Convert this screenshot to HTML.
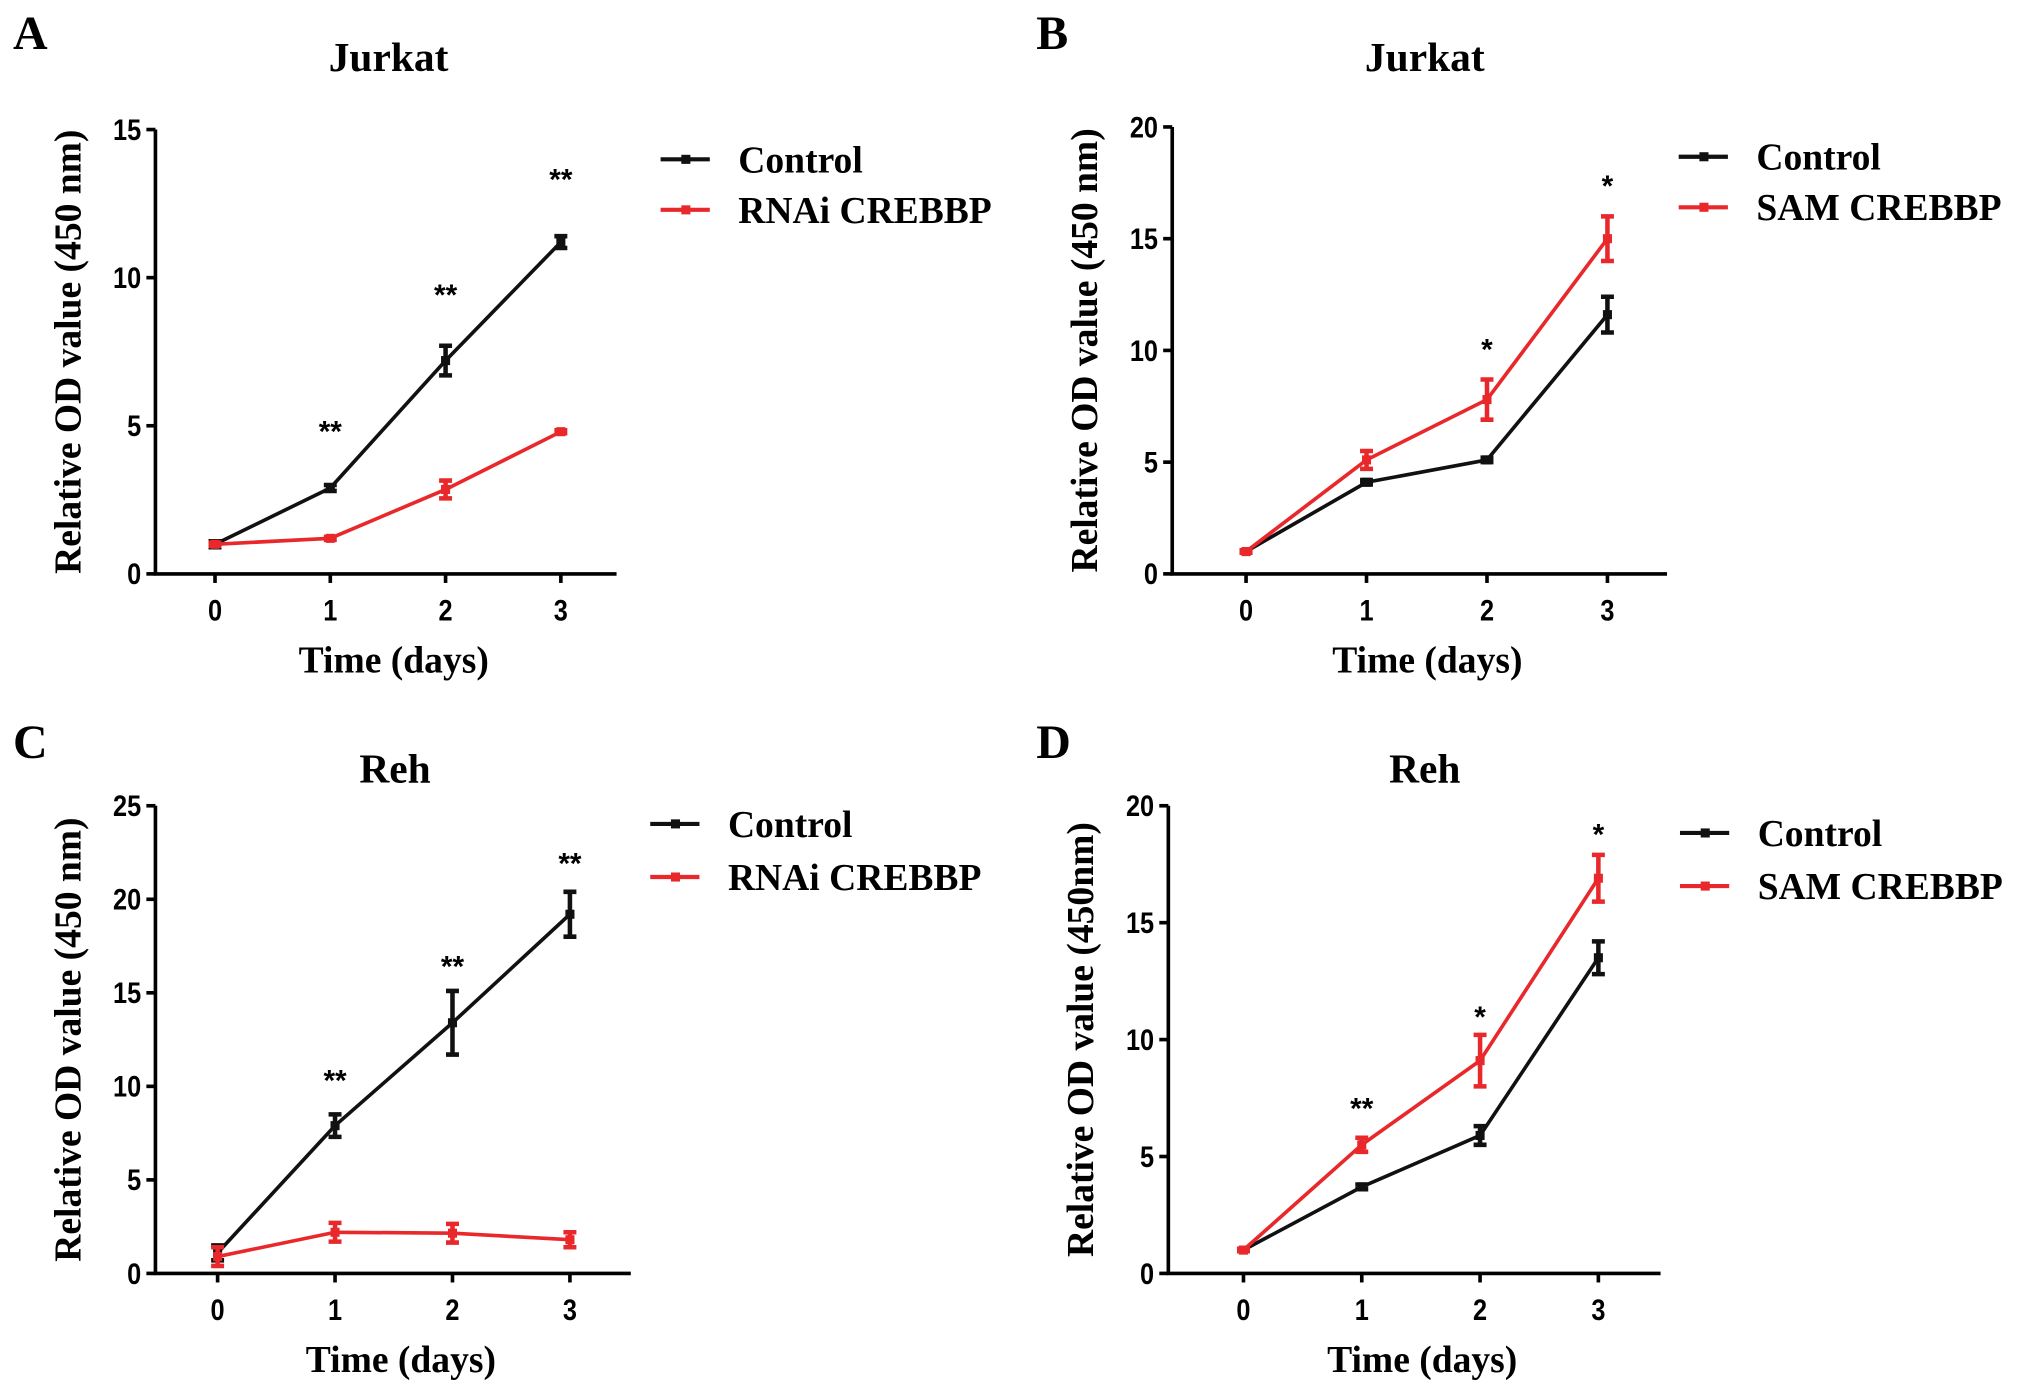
<!DOCTYPE html>
<html><head><meta charset="utf-8"><style>
html,body{margin:0;padding:0;background:#fff;}
svg{display:block;}
.serif{font-family:"Liberation Serif",serif;font-weight:bold;}
.tick{font-family:"Liberation Sans",sans-serif;font-weight:bold;font-size:23px;}
</style></head><body>
<svg id="fig" width="2031" height="1390" viewBox="0 0 1568 1073" preserveAspectRatio="none" xmlns="http://www.w3.org/2000/svg"></svg>
<script>
const days = [0, 1, 2, 3];
const aCtrl = [1, 2.9, 7.2, 11.2];
const aCtrlErr = [0.1, 0.1, 0.5, 0.2];
const aTrt = [1, 1.2, 2.85, 4.8];
const aTrtErr = [0.05, 0.05, 0.3, 0.05];
const aStars = ["", "**", "**", "**"];
const aStarVal = [0, 5, 9.6, 13.5];
const bCtrl = [1, 4.1, 5.1, 11.6];
const bCtrlErr = [0.05, 0.1, 0.1, 0.8];
const bTrt = [1, 5.1, 7.8, 15.0];
const bTrtErr = [0.05, 0.4, 0.9, 1.0];
const bStars = ["", "", "*", "*"];
const bStarVal = [0, 0, 10.3, 17.6];
const cCtrl = [1.1, 7.9, 13.4, 19.2];
const cCtrlErr = [0.4, 0.6, 1.7, 1.2];
const cTrt = [0.9, 2.2, 2.15, 1.8];
const cTrtErr = [0.5, 0.5, 0.5, 0.4];
const cStars = ["", "**", "**", "**"];
const cStarVal = [0, 10.6, 16.7, 22.2];
const dCtrl = [1, 3.7, 5.9, 13.5];
const dCtrlErr = [0.05, 0.1, 0.4, 0.7];
const dTrt = [1, 5.5, 9.1, 16.9];
const dTrtErr = [0.05, 0.3, 1.1, 1.0];
const dStars = ["", "**", "*", "*"];
const dStarVal = [0, 7.3, 11.2, 19.0];
const yTicksA = [0, 5, 10, 15];
const yTicksB = [0, 5, 10, 15, 20];
const yTicksC = [0, 5, 10, 15, 20, 25];
const yTicksD = [0, 5, 10, 15, 20];

const NS = "http://www.w3.org/2000/svg";
const svg = document.getElementById("fig");
function mk(tag, attrs, parent, text){
  const e = document.createElementNS(NS, tag);
  for (const k in attrs) e.setAttribute(k, attrs[k]);
  if (text !== undefined) e.textContent = text;
  (parent || svg).appendChild(e);
  return e;
}
function panel(p){
  const g = mk("g", {});
  
  
  const ymax = p.ticks[p.ticks.length-1];
  const yS = v => p.y0 - (p.y0 - p.yTop) * v / ymax;
  const xS = d => p.x0 + (p.x3 - p.x0) * d / 3;
  const t = mk("text", {x:p.lx, y:p.ly, class:"serif", "font-size":37}, g, p.id);
  
  
  const ti = mk("text", {x:p.tx, y:p.ty, class:"serif", "font-size":32, "text-anchor":"middle"}, g, p.title);
  
  
  const ax = mk("path", {d:`M${p.ax},${yS(ymax)} L${p.ax},${p.y0} L${p.axEnd},${p.y0}`, stroke:"#000", "stroke-width":2.8, fill:"none"}, g);
  
  
  p.ticks.forEach(v => {
    mk("line", {x1:p.ax-7, x2:p.ax, y1:yS(v), y2:yS(v), stroke:"#000", "stroke-width":2.8}, g);
    const l = mk("text", {x:p.ax-11, y:yS(v)+8, class:"tick", "text-anchor":"end", transform:`translate(${(p.ax-11)*0.15},0) scale(0.85,1)`}, g, String(v));
    
    
  });
  days.forEach(d => {
    mk("line", {x1:xS(d), x2:xS(d), y1:p.y0, y2:p.y0+7, stroke:"#000", "stroke-width":2.8}, g);
    const l = mk("text", {x:xS(d), y:p.y0+36, class:"tick", "text-anchor":"middle", transform:`translate(${xS(d)*0.15},0) scale(0.85,1)`}, g, String(d));
    
    
  });
  const xt = mk("text", {x:(p.ax+p.axEnd)/2+6, y:p.y0+76, class:"serif", "font-size":29, "text-anchor":"middle"}, g, "Time (days)");
  
  
  const yc = (p.y0 + yS(ymax))/2;
  const yt = mk("text", {x:0, y:0, class:"serif", "font-size":29, "text-anchor":"middle", transform:`translate(${p.ax-58},${yc}) rotate(-90)`}, g, p.ylab);
  
  
  [[p.ctrl,p.ctrlErr,"#111","control"],[p.trt,p.trtErr,"#e8282b","treatment"]].forEach(([vals,errs,col,nm]) => {
    const pts = days.map(d => xS(d)+","+yS(vals[d])).join(" ");
    const pl = mk("polyline", {points:pts, stroke:col, "stroke-width":2.8, fill:"none"}, g);
    
    
    days.forEach(d => {
      const x = xS(d), yh = yS(vals[d]+errs[d]), yl = yS(vals[d]-errs[d]);
      const eb = mk("path", {d:`M${x},${yh} L${x},${yl} M${x-5},${yh} L${x+5},${yh} M${x-5},${yl} L${x+5},${yl}`, stroke:col, "stroke-width":3.5, fill:"none"}, g);
      
      
      const m = mk("rect", {x:x-3.5, y:yS(vals[d])-3.5, width:7, height:7, fill:col}, g);
      
      
    });
  });
  days.forEach(d => {
    if (!p.stars[d]) return;
    const s = mk("text", {x:xS(d), y:yS(p.starVal[d])+12, class:"tick", "font-size":23, "text-anchor":"middle"}, g, p.stars[d]);
    
    
  });
  [["Control","#111",p.lg1],[p.trtName,"#e8282b",p.lg2]].forEach(([name,col,y]) => {
    mk("line", {x1:p.lgx, x2:p.lgx+38, y1:y, y2:y, stroke:col, "stroke-width":3.2}, g);
    mk("rect", {x:p.lgx+16, y:y-3.5, width:7, height:7, fill:col}, g);
    const lt = mk("text", {x:p.lgx+60, y:y+10, class:"serif", "font-size":29}, g, name);
    
    
  });
}
panel({id:"A", title:"Jurkat", lx:10, ly:38, tx:300, ty:55, ax:120, axEnd:476, y0:443, yTop:100, x0:166, x3:433, ticks:yTicksA, ylab:"Relative OD value (450 nm)", ctrl:aCtrl, ctrlErr:aCtrlErr, trt:aTrt, trtErr:aTrtErr, stars:aStars, starVal:aStarVal, trtName:"RNAi CREBBP", lgx:510, lg1:123, lg2:162});
panel({id:"B", title:"Jurkat", lx:800, ly:38, tx:1100, ty:55, ax:905, axEnd:1287, y0:443, yTop:98, x0:962, x3:1241, ticks:yTicksB, ylab:"Relative OD value (450 nm)", ctrl:bCtrl, ctrlErr:bCtrlErr, trt:bTrt, trtErr:bTrtErr, stars:bStars, starVal:bStarVal, trtName:"SAM CREBBP", lgx:1296, lg1:121, lg2:160});
panel({id:"C", title:"Reh", lx:10, ly:585, tx:305, ty:604, ax:120, axEnd:487, y0:983, yTop:622, x0:168, x3:440, ticks:yTicksC, ylab:"Relative OD value (450 nm)", ctrl:cCtrl, ctrlErr:cCtrlErr, trt:cTrt, trtErr:cTrtErr, stars:cStars, starVal:cStarVal, trtName:"RNAi CREBBP", lgx:502, lg1:636, lg2:677});
panel({id:"D", title:"Reh", lx:800, ly:585, tx:1100, ty:604, ax:902, axEnd:1282, y0:983, yTop:622, x0:960, x3:1234, ticks:yTicksD, ylab:"Relative OD value (450nm)", ctrl:dCtrl, ctrlErr:dCtrlErr, trt:dTrt, trtErr:dTrtErr, stars:dStars, starVal:dStarVal, trtName:"SAM CREBBP", lgx:1297, lg1:643, lg2:684});
</script>
</body></html>
